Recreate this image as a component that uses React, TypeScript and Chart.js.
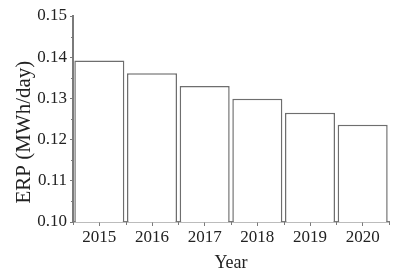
import React, { useEffect, useRef } from "react";
import { Chart, registerables } from "chart.js";

Chart.register(...registerables);

const years = ["2015", "2016", "2017", "2018", "2019", "2020"];
const erp = [0.1392, 0.1361, 0.133, 0.1299, 0.1265, 0.1236];
const yMin = 0.1;
const yMax = 0.15;
const yStep = 0.01;
const yTitle = "ERP (MWh/day)";
const xTitle = "Year";

const axisColor = "#7a7a7a";
const textColor = "#222222";
const serif = "'Liberation Serif', 'Times New Roman', serif";

const minorTicks = {
  id: "minorTicks",
  afterDraw(chart: any) {
    const ctx = chart.ctx;
    const x = chart.scales.x;
    const y = chart.scales.y;
    ctx.save();
    ctx.strokeStyle = axisColor;
    ctx.lineWidth = 1;
    const n = x.ticks.length;
    const half = (x.getPixelForValue(1) - x.getPixelForValue(0)) / 2;
    for (let i = 0; i <= n; i++) {
      const px = i < n ? x.getPixelForValue(i) - half : x.getPixelForValue(n - 1) + half;
      ctx.beginPath();
      ctx.moveTo(Math.round(px) + 0.5, y.bottom);
      ctx.lineTo(Math.round(px) + 0.5, y.bottom + 3);
      ctx.stroke();
    }
    for (let v = yMin + yStep / 2; v < yMax; v += yStep) {
      const py = y.getPixelForValue(v);
      ctx.beginPath();
      ctx.moveTo(x.left - 2, Math.round(py) + 0.5);
      ctx.lineTo(x.left, Math.round(py) + 0.5);
      ctx.stroke();
    }
    ctx.restore();
  },
};

export default function App() {
  const ref = useRef<HTMLCanvasElement>(null);
  useEffect(() => {
    document.body.style.margin = "0";
    const chart = new Chart(ref.current!, {
      type: "bar",
      data: {
        labels: years,
        datasets: [
          {
            data: erp,
            backgroundColor: "#ffffff",
            borderColor: "#6e6e6e",
            borderWidth: 1.5,
            borderSkipped: "bottom",
            barPercentage: 0.95,
            categoryPercentage: 1,
          },
        ],
      },
      options: {
        animation: false,
        responsive: false,
        maintainAspectRatio: false,
        layout: { padding: { left: 8, right: 9, top: 16, bottom: 4 } },
        plugins: { legend: { display: false }, tooltip: { enabled: false } },
        scales: {
          x: {
            offset: true,
            grid: {
              display: true,
              drawOnChartArea: false,
              drawTicks: true,
              tickLength: 4,
              color: axisColor,
              offset: false,
            },
            border: { display: true, color: axisColor, width: 1.5 },
            ticks: {
              color: textColor,
              font: { family: serif, size: 17 },
              padding: 1,
              maxRotation: 0,
            },
            title: {
              display: true,
              text: xTitle,
              color: textColor,
              font: { family: serif, size: 18 },
              padding: { top: 0, bottom: 0 },
            },
            afterFit: (s: any) => {
              s.height = 52;
            },
          },
          y: {
            min: yMin,
            max: yMax,
            ticks: {
              stepSize: yStep,
              color: textColor,
              font: { family: serif, size: 17 },
              padding: 3,
              callback: (v: any) => Number(v).toFixed(2),
            },
            grid: {
              display: true,
              drawOnChartArea: false,
              drawTicks: true,
              tickLength: 3,
              color: axisColor,
            },
            border: { display: true, color: axisColor, width: 2 },
            title: {
              display: true,
              text: yTitle + "     ",
              color: textColor,
              font: { family: serif, size: 21 },
              padding: { top: 4, bottom: 0 },
            },
            afterFit: (s: any) => {
              s.width = 65;
            },
          },
        },
      },
      plugins: [minorTicks],
    });
    return () => chart.destroy();
  }, []);
  return <canvas ref={ref} width={398} height={278} style={{ display: "block" }} />;
}
